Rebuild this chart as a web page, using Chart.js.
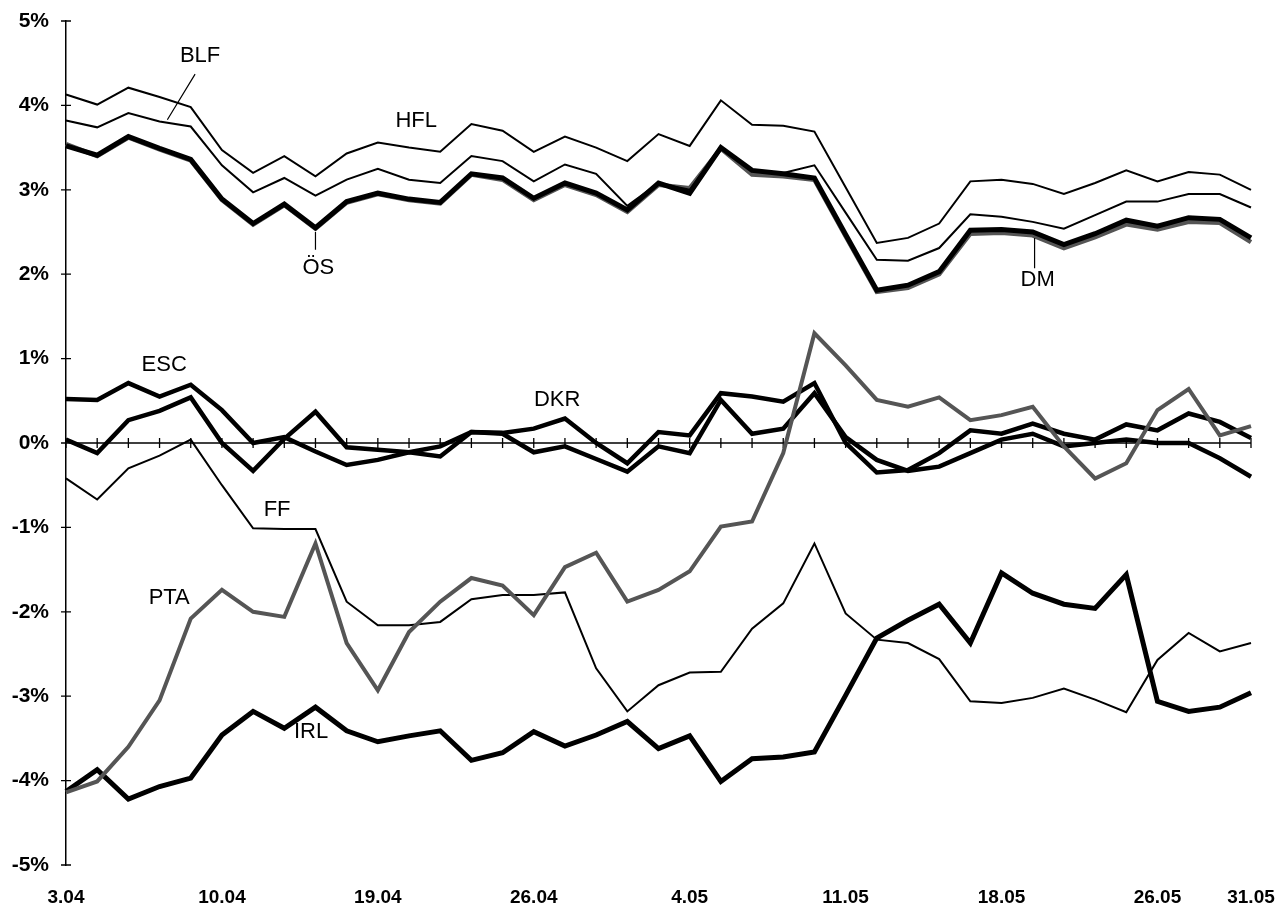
<!DOCTYPE html>
<html>
<head>
<meta charset="utf-8">
<script src="https://cdn.jsdelivr.net/npm/chart.js@4.4.1/dist/chart.umd.min.js"></script>
<style>
  html, body { margin: 0; padding: 0; background: #fff; overflow: hidden; }
  #wrap { width: 1276px; height: 908px; position: relative; }
</style>
</head>
<body>
<div id="wrap"><canvas id="spreadChart"></canvas></div>
<script>
// trading days, only some carry a date label
const categories = [
  '3.04', '', '', '', '', '10.04', '', '', '', '',
  '19.04', '', '', '', '', '26.04', '', '', '', '',
  '4.05', '', '', '', '', '11.05', '', '', '', '',
  '18.05', '', '', '', '', '26.05', '', '', '31.05'
];
const yTicks = [-5, -4, -3, -2, -1, 0, 1, 2, 3, 4, 5];

const HFL = [
  4.13, 4.01, 4.21, 4.10, 3.98, 3.47, 3.20, 3.40, 3.16, 3.43,
  3.56, 3.50, 3.45, 3.78, 3.70, 3.45, 3.63, 3.50, 3.34, 3.66,
  3.52, 4.06, 3.77, 3.76, 3.69, 3.03, 2.37, 2.43, 2.60, 3.10,
  3.12, 3.07, 2.95, 3.08, 3.23, 3.10, 3.21, 3.18, 3.00
];
const BLF = [
  3.82, 3.74, 3.91, 3.81, 3.75, 3.29, 2.97, 3.14, 2.93, 3.12,
  3.25, 3.12, 3.08, 3.40, 3.34, 3.10, 3.30, 3.19, 2.81, 3.08,
  3.00, 3.51, 3.23, 3.20, 3.29, 2.73, 2.17, 2.16, 2.31, 2.71,
  2.68, 2.62, 2.54, 2.70, 2.86, 2.86, 2.95, 2.95, 2.79
];
const OS = [
  3.52, 3.41, 3.63, 3.49, 3.36, 2.89, 2.60, 2.83, 2.55, 2.86,
  2.96, 2.89, 2.85, 3.19, 3.14, 2.90, 3.08, 2.96, 2.76, 3.08,
  2.96, 3.50, 3.23, 3.19, 3.14, 2.47, 1.81, 1.87, 2.03, 2.52,
  2.53, 2.50, 2.35, 2.48, 2.64, 2.57, 2.67, 2.65, 2.43
];
const DM = [
  3.54, 3.40, 3.62, 3.48, 3.35, 2.88, 2.59, 2.82, 2.54, 2.85,
  2.95, 2.88, 2.84, 3.18, 3.12, 2.88, 3.06, 2.94, 2.74, 3.06,
  3.02, 3.49, 3.18, 3.16, 3.12, 2.45, 1.79, 1.84, 2.00, 2.48,
  2.49, 2.46, 2.31, 2.44, 2.59, 2.53, 2.62, 2.61, 2.38
];
const ESC = [
  0.52, 0.51, 0.71, 0.55, 0.69, 0.39, 0.00, 0.07, -0.10, -0.26,
  -0.20, -0.11, -0.16, 0.13, 0.12, 0.17, 0.29, 0.00, -0.24, 0.13,
  0.09, 0.59, 0.55, 0.49, 0.71, 0.00, -0.35, -0.32, -0.12, 0.15,
  0.11, 0.23, 0.11, 0.04, 0.22, 0.15, 0.35, 0.25, 0.06
];
const DKR = [
  0.04, -0.12, 0.27, 0.38, 0.54, 0.00, -0.33, 0.05, 0.37, -0.05,
  -0.08, -0.11, -0.04, 0.13, 0.11, -0.11, -0.04, -0.19, -0.34, -0.04,
  -0.12, 0.51, 0.11, 0.17, 0.59, 0.07, -0.20, -0.33, -0.28, -0.12,
  0.04, 0.11, -0.04, 0.00, 0.04, 0.00, 0.00, -0.18, -0.40
];
const FF = [
  -0.42, -0.67, -0.30, -0.15, 0.04, -0.50, -1.01, -1.02, -1.02, -1.88,
  -2.16, -2.16, -2.12, -1.85, -1.80, -1.80, -1.77, -2.67, -3.18, -2.87,
  -2.72, -2.71, -2.20, -1.90, -1.19, -2.02, -2.33, -2.37, -2.56, -3.06,
  -3.08, -3.02, -2.91, -3.04, -3.19, -2.57, -2.25, -2.47, -2.37
];
const PTA = [
  -4.14, -4.01, -3.60, -3.05, -2.08, -1.74, -2.00, -2.06, -1.19, -2.37,
  -2.93, -2.24, -1.88, -1.60, -1.69, -2.04, -1.47, -1.30, -1.88, -1.74,
  -1.52, -0.99, -0.93, -0.12, 1.30, 0.92, 0.51, 0.43, 0.54, 0.27,
  0.33, 0.43, -0.04, -0.42, -0.24, 0.39, 0.64, 0.09, 0.20
];
const IRL = [
  -4.13, -3.87, -4.22, -4.07, -3.97, -3.46, -3.18, -3.38, -3.13, -3.41,
  -3.54, -3.47, -3.41, -3.76, -3.67, -3.42, -3.59, -3.46, -3.30, -3.62,
  -3.47, -4.01, -3.74, -3.72, -3.66, -2.99, -2.31, -2.10, -1.91, -2.37,
  -1.54, -1.78, -1.91, -1.96, -1.56, -3.06, -3.18, -3.13, -2.96
];

// series names written into the plot, placed in data units (index, %)
const nameLabels = [
  { text: 'BLF', at: [4.30, 4.59] },
  { text: 'HFL', at: [11.23, 3.82] },
  { text: 'ÖS',  at: [8.09, 2.07] },
  { text: 'DM',  at: [31.16, 1.93] },
  { text: 'ESC', at: [3.15, 0.92] },
  { text: 'DKR', at: [15.75, 0.51] },
  { text: 'FF',  at: [6.77, -0.79] },
  { text: 'PTA', at: [3.31, -1.84] },
  { text: 'IRL', at: [7.86, -3.42] }
];
const leaderLines = [
  { from: [4.14, 4.37], to: [3.25, 3.83] },
  { from: [8.00, 2.50], to: [8.00, 2.29] },
  { from: [31.06, 2.43], to: [31.06, 2.07] }
];

const GREY = '#555555';
const FONT = '"Liberation Sans", Arial, sans-serif';

const axisMarks = {
  id: 'axisMarks',
  beforeDatasetsDraw(chart) {
    const { ctx, chartArea, scales: { x, y } } = chart;
    const y0 = y.getPixelForValue(0);
    ctx.save();
    ctx.strokeStyle = '#000';
    ctx.lineWidth = 1.3;
    ctx.beginPath();
    ctx.moveTo(chartArea.left, y0);
    ctx.lineTo(chartArea.right, y0);
    categories.forEach((c, i) => {
      const px = x.getPixelForValue(i);
      ctx.moveTo(px, y0 - 5);
      ctx.lineTo(px, y0 + 5);
    });
    yTicks.forEach(v => {
      const py = y.getPixelForValue(v);
      ctx.moveTo(chartArea.left - 5, py);
      ctx.lineTo(chartArea.left + 5, py);
    });
    ctx.stroke();
    ctx.restore();
  },
  afterDatasetsDraw(chart) {
    const { ctx, scales: { x, y } } = chart;
    ctx.save();
    ctx.strokeStyle = '#000';
    ctx.lineWidth = 1.2;
    ctx.beginPath();
    leaderLines.forEach(l => {
      ctx.moveTo(x.getPixelForValue(l.from[0]), y.getPixelForValue(l.from[1]));
      ctx.lineTo(x.getPixelForValue(l.to[0]), y.getPixelForValue(l.to[1]));
    });
    ctx.stroke();

    ctx.fillStyle = '#000';
    ctx.font = '22px ' + FONT;
    ctx.textAlign = 'center';
    ctx.textBaseline = 'middle';
    nameLabels.forEach(l => {
      ctx.fillText(l.text, x.getPixelForValue(l.at[0]), y.getPixelForValue(l.at[1]));
    });
    ctx.restore();
  }
};

function lineSet(label, data, color, width) {
  return {
    label: label,
    data: data,
    borderColor: color,
    borderWidth: width,
    pointRadius: 0,
    tension: 0,
    fill: false
  };
}

const ctx = document.getElementById('spreadChart').getContext('2d');
new Chart(ctx, {
  type: 'line',
  data: {
    labels: categories,
    datasets: [
      lineSet('PTA', PTA, GREY, 4),
      lineSet('HFL', HFL, '#000', 2),
      lineSet('BLF', BLF, '#000', 2),
      lineSet('ÖS', OS, '#000', 5),
      lineSet('DM', DM, GREY, 4.5),
      lineSet('ESC', ESC, '#000', 4.5),
      lineSet('DKR', DKR, '#000', 4.5),
      lineSet('FF', FF, '#000', 2),
      lineSet('IRL', IRL, '#000', 5)
    ]
  },
  options: {
    responsive: true,
    maintainAspectRatio: false,
    animation: false,
    layout: { padding: { left: 0, right: 25, top: 21, bottom: 0 } },
    plugins: {
      legend: { display: false },
      tooltip: { enabled: false }
    },
    scales: {
      x: {
        type: 'category',
        offset: false,
        grid: { display: false, drawTicks: false },
        border: { display: false },
        ticks: {
          autoSkip: false,
          maxRotation: 0,
          padding: 21,
          color: '#000',
          font: { family: FONT, size: 19, weight: 'bold' }
        },
        afterFit: scale => {
          scale.height = 43;
          // let layout.padding alone decide the side gaps
          scale.paddingLeft = 0;
          scale.paddingRight = 0;
        }
      },
      y: {
        min: -5,
        max: 5,
        grid: { display: false, drawTicks: false },
        border: { display: true, color: '#000', width: 1.5 },
        afterBuildTicks: scale => { scale.ticks = yTicks.map(v => ({ value: v })); },
        ticks: {
          padding: 17,
          color: '#000',
          font: { family: FONT, size: 21, weight: 'bold' },
          callback: v => v + '%'
        },
        afterFit: scale => {
          scale.width = 66;
          scale.paddingTop = 0;
          scale.paddingBottom = 0;
        }
      }
    }
  },
  plugins: [axisMarks]
});
</script>
</body>
</html>
